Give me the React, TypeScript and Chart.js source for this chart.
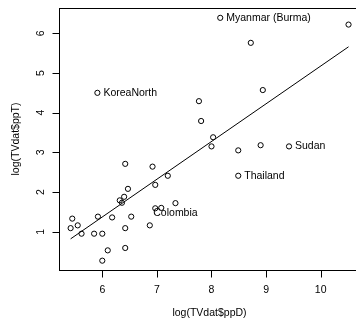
import React, { useEffect, useRef } from "react";
import { Chart, registerables } from "chart.js";

Chart.register(...registerables);

const pointsX = [5.42, 5.45, 5.55, 5.62, 5.85, 5.92, 6.0, 6.0, 6.1, 6.18, 6.32, 6.36, 6.4, 6.42, 6.42, 6.42, 6.47, 6.53, 6.87, 6.92, 6.97, 6.97, 7.08, 7.2, 7.34, 5.91, 8.16, 10.51, 8.72, 8.94, 7.77, 7.81, 8.03, 8.0, 8.49, 8.9, 9.42, 8.49];
const pointsY = [1.09, 1.33, 1.16, 0.95, 0.95, 1.38, 0.95, 0.27, 0.53, 1.36, 1.79, 1.73, 1.88, 1.09, 0.59, 2.71, 2.08, 1.38, 1.16, 2.64, 2.18, 1.59, 1.6, 2.41, 1.72, 4.5, 6.39, 6.22, 5.76, 4.57, 4.29, 3.79, 3.38, 3.15, 3.05, 3.18, 3.15, 2.41];

const fitX = [5.42, 10.51];
const fitY = [0.82, 5.66];

const labelText = ["KoreaNorth", "Myanmar (Burma)", "Sudan", "Thailand", "Colombia"];
const labelX = [5.91, 8.16, 9.42, 8.49, 7.34];
const labelY = [4.5, 6.39, 3.15, 2.41, 1.72];
const labelPos = ["right", "right", "right", "right", "below"];

const xTicks = [6, 7, 8, 9, 10];
const yTicks = [1, 2, 3, 4, 5, 6];
const xTitle = "log(TVdat$ppD)";
const yTitle = "log(TVdat$ppT)";

const FONT = "10.5px 'Liberation Sans', Arial, sans-serif";

const decorPlugin = {
  id: "rdecor",
  afterDraw(chart: any) {
    const ctx = chart.ctx;
    const xs = chart.scales.x;
    const ys = chart.scales.y;
    const a = chart.chartArea;
    ctx.save();
    ctx.strokeStyle = "#000";
    ctx.fillStyle = "#000";
    ctx.lineWidth = 1;
    // box
    ctx.strokeRect(Math.round(a.left) + 0.5, Math.round(a.top) + 0.5, a.right - a.left, a.bottom - a.top);
    // x axis ticks
    const xl = xs.getPixelForValue(xTicks[0]);
    const xr = xs.getPixelForValue(xTicks[xTicks.length - 1]);
    const by = Math.round(a.bottom) + 0.5;
    ctx.beginPath();
    ctx.moveTo(xl, by);
    ctx.lineTo(xr, by);
    xTicks.forEach((t) => {
      const px = Math.round(xs.getPixelForValue(t)) + 0.5;
      ctx.moveTo(px, by);
      ctx.lineTo(px, by + 7);
    });
    // y axis ticks
    const lx = Math.round(a.left) + 0.5;
    yTicks.forEach((t) => {
      const py = Math.round(ys.getPixelForValue(t)) + 0.5;
      ctx.moveTo(lx, py);
      ctx.lineTo(lx - 7, py);
    });
    ctx.stroke();
    ctx.font = FONT;
    ctx.textAlign = "center";
    ctx.textBaseline = "middle";
    xTicks.forEach((t) => {
      ctx.fillText(String(t), xs.getPixelForValue(t), a.bottom + 20);
    });
    yTicks.forEach((t) => {
      ctx.save();
      ctx.translate(41, ys.getPixelForValue(t));
      ctx.rotate(-Math.PI / 2);
      ctx.fillText(String(t), 0, 0);
      ctx.restore();
    });
    // titles
    ctx.fillText(xTitle, (a.left + a.right) / 2, a.bottom + 43);
    ctx.save();
    ctx.translate(16, (a.top + a.bottom) / 2);
    ctx.rotate(-Math.PI / 2);
    ctx.fillText(yTitle, 0, 0);
    ctx.restore();
    // point labels
    labelText.forEach((txt, i) => {
      const px = xs.getPixelForValue(labelX[i]);
      const py = ys.getPixelForValue(labelY[i]);
      if (labelPos[i] === "below") {
        ctx.textAlign = "center";
        ctx.fillText(txt, px, py + 10);
      } else {
        ctx.textAlign = "left";
        ctx.fillText(txt, px + 6, py);
      }
    });
    ctx.restore();
  },
};

export default function App() {
  const ref = useRef<HTMLCanvasElement>(null);
  useEffect(() => {
    if (!ref.current) return;
    const chart = new Chart(ref.current, {
      type: "scatter",
      data: {
        datasets: [
          {
            data: pointsX.map((x, i) => ({ x, y: pointsY[i] })),
            pointRadius: 2.6,
            pointBorderWidth: 1,
            borderColor: "#000",
            backgroundColor: "rgba(0,0,0,0)",
            pointBackgroundColor: "rgba(0,0,0,0)",
            pointBorderColor: "#000",
          },
          {
            data: fitX.map((x, i) => ({ x, y: fitY[i] })),
            showLine: true,
            pointRadius: 0,
            borderWidth: 1,
            borderColor: "#000",
            backgroundColor: "rgba(0,0,0,0)",
          },
        ],
      },
      options: {
        responsive: false,
        animation: false,
        events: [],
        layout: { autoPadding: false, padding: { left: 59, top: 8, right: 10, bottom: 57 } },
        plugins: { legend: { display: false }, tooltip: { enabled: false } },
        scales: {
          x: { type: "linear", display: false, min: 5.207, max: 10.72 },
          y: { type: "linear", display: false, min: 0.035, max: 6.638 },
        },
      },
      plugins: [decorPlugin],
    });
    return () => chart.destroy();
  }, []);
  return (
    <div style={{ position: "fixed", left: 0, top: 0, width: 356, height: 327, overflow: "hidden", background: "#fff" }}>
      <canvas ref={ref} width={370} height={327} style={{ width: 370, height: 327, display: "block" }} />
    </div>
  );
}
